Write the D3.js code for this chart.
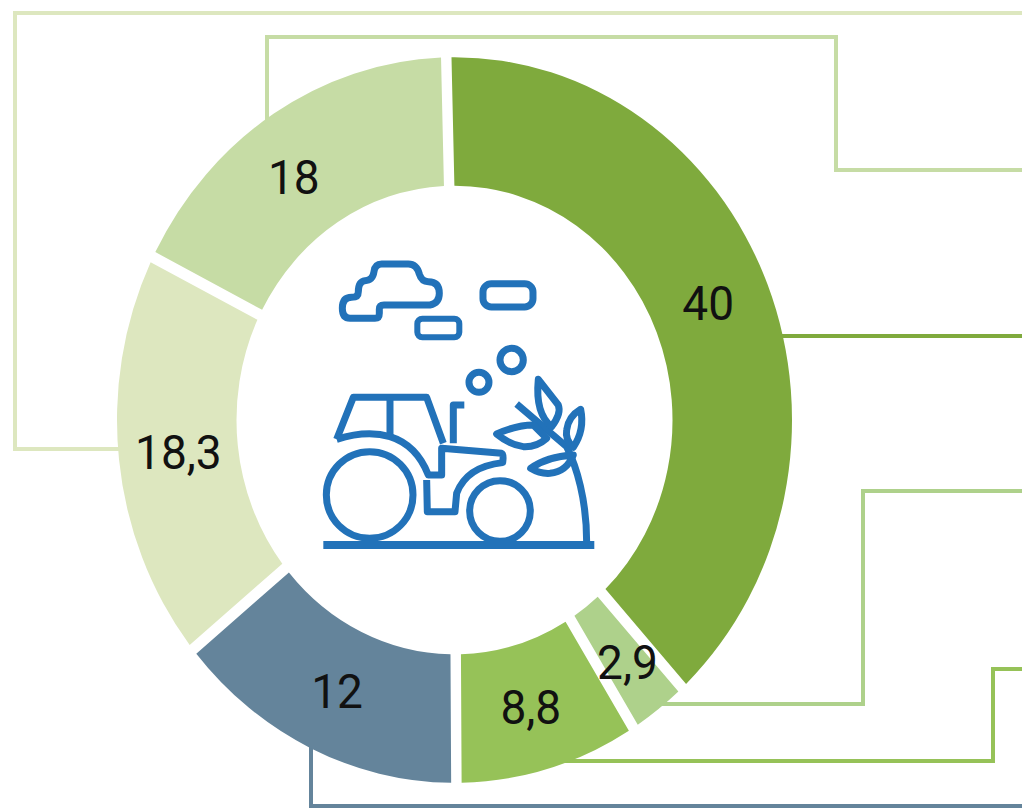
<!DOCTYPE html>
<html>
<head>
<meta charset="utf-8">
<script src="https://cdn.jsdelivr.net/npm/d3@7"></script>
<style>
    html, body { margin: 0; padding: 0; background: #fff; }
    svg { display: block; }
    .label { font-family: Roboto, "DejaVu Sans Condensed", sans-serif; font-size: 49px; fill: #111; }
</style>
</head>
<body>
<div id="chart"></div>
<script>
// printed labels, clockwise from the top
const labels = ["40", "2,9", "8,8", "12", "18,3", "18"];
// share of the ring each slice really takes in the picture (the printed figures are not quite to scale)
const shares = [38.6, 2.9, 8.8, 14.2, 18.3, 17.2];
const colors = ["#7faa3d", "#aed18b", "#96c258", "#64849b", "#dde7bf", "#c6dca5"];

const width = 1022, height = 810;

const svg = d3.select("#chart").append("svg")
    .attr("width", width)
    .attr("height", height);

// connector lines, they start under the ring and run off to the right
const leaderRoutes = [
    [[740, 336], [width, 336]],
    [[640, 704], [863, 704], [863, 491], [width, 491]],
    [[560, 761], [993, 761], [993, 669], [width, 669]],
    [[311, 730], [311, 806], [width, 806]],
    [[140, 449], [15, 449], [15, 13], [width, 13]],
    [[267, 140], [267, 37], [836, 37], [836, 170], [width, 170]]
];

svg.selectAll(".leader")
    .data(leaderRoutes)
    .enter()
    .append("path")
    .attr("class", "leader")
    .attr("fill", "none")
    .attr("stroke", (d, i) => colors[i])
    .attr("stroke-width", 4)
    .attr("d", d3.line());

// ring, the picture is a little taller than wide
const cx = 454.5, cy = 420, squash = 1.075;

const pie = d3.pie()
    .sort(null)
    .startAngle(-1.4 * Math.PI / 180)
    .endAngle(358.6 * Math.PI / 180);

const arc = d3.arc()
    .innerRadius(218)
    .outerRadius(337.5)
    .padAngle(0.031)
    .padRadius(337.5);

const slices = pie(shares);

svg.append("g")
    .attr("transform", "translate(" + cx + "," + cy + ") scale(1," + squash + ")")
    .selectAll("path")
    .data(slices)
    .enter()
    .append("path")
    .attr("fill", (d, i) => colors[i])
    .attr("d", arc);

// labels sit near the centroids, some are pushed off a bit
const nudge = [[-4, -5], [5, 5], [-1, 1], [1, 1], [0, 0], [-12, 10]];

svg.selectAll(".label")
    .data(slices)
    .enter()
    .append("text")
    .attr("class", "label")
    .attr("text-anchor", "middle")
    .attr("dominant-baseline", "central")
    .attr("transform", (d, i) => "translate(" + (cx + arc.centroid(d)[0] + nudge[i][0]) + ","
        + (cy + arc.centroid(d)[1] * squash + nudge[i][1]) + ") scale(0.94,1)")
    .text((d, i) => labels[i]);

// tractor icon, drawn at 3x and scaled down
const icon = svg.append("g")
    .attr("transform", "translate(310,250) scale(0.3333)")
    .attr("fill", "none")
    .attr("stroke", "#2272b9")
    .attr("stroke-width", 21)
    .attr("stroke-linejoin", "round");

const iconPaths = [
    // cloud
    "M120,205 H195 Q208,205 208,190 V178 Q208,165 222,165 H360 Q388,160 388,130 Q388,95 355,95 Q335,95 328,72 Q320,42 295,42 H215 Q195,42 192,65 Q188,92 165,92 Q145,95 145,125 Q145,142 125,142 Q97,142 97,175 Q97,205 120,205 Z",
    // cab
    "M80,568 L130,442 H350 L400,580",
    "M240,442 V560",
    // mudguard and body
    "M80,568 Q170,540 240,560 Q320,585 355,675 H395 V595 L575,610 Q582,612 578,638 Q470,650 440,730 L435,785 H352 L350,690",
    // exhaust
    "M430,580 V465 H463",
    // stem and leaves
    "M830,875 C830,750 800,650 770,590 L620,462",
    "M685,388 L745,465 Q755,490 725,530 Q675,490 685,388 Z",
    "M812,478 Q825,540 790,592 Q765,570 770,540 Q775,500 812,478 Z",
    "M560,552 Q620,525 670,525 L710,565 Q680,592 640,590 Q600,585 560,552 Z",
    "M662,655 Q710,620 790,615 Q770,665 720,670 Q690,672 662,655 Z"
];

icon.selectAll("path")
    .data(iconPaths)
    .enter()
    .append("path")
    .attr("d", d => d);

icon.append("rect").attr("x", 519).attr("y", 101).attr("width", 150).attr("height", 70).attr("rx", 25);
icon.append("rect").attr("x", 322).attr("y", 206).attr("width", 126).attr("height", 56).attr("rx", 15).attr("stroke-width", 18);
icon.append("circle").attr("cx", 605).attr("cy", 330).attr("r", 35);
icon.append("circle").attr("cx", 507).attr("cy", 397).attr("r", 30);
icon.append("circle").attr("cx", 179).attr("cy", 735).attr("r", 130);
icon.append("circle").attr("cx", 570).attr("cy", 783).attr("r", 91);
icon.append("path").attr("d", "M40,885 H853").attr("stroke-width", 24);
</script>
</body>
</html>
